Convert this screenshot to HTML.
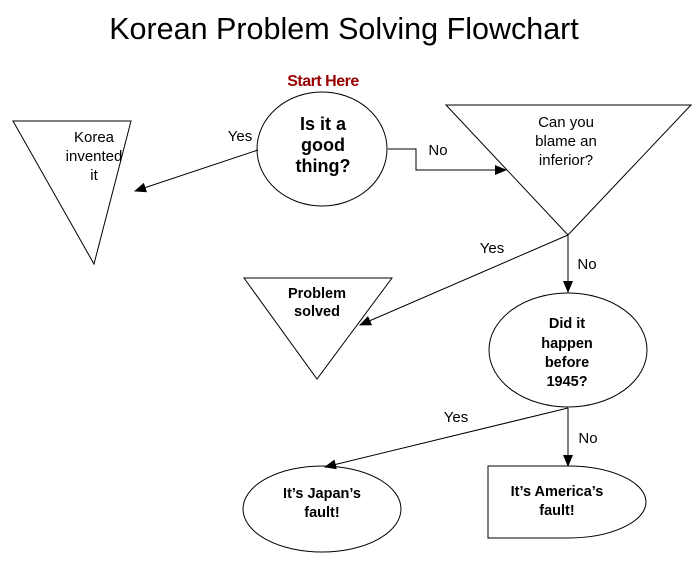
<!DOCTYPE html>
<html><head><meta charset="utf-8"><style>
html,body{margin:0;padding:0;background:#fff;}
svg{display:block;font-family:"Liberation Sans",Arial,sans-serif;}
</style></head><body>
<svg width="699" height="567" viewBox="0 0 699 567" xmlns="http://www.w3.org/2000/svg">
<defs><marker id="a" markerWidth="12" markerHeight="10" refX="11" refY="5" orient="auto" markerUnits="userSpaceOnUse"><path d="M0,0 L12,5 L0,10 Z" fill="#000"/></marker></defs>
<rect width="699" height="567" fill="#fff"/>
<text x="344" y="39" font-size="30.5" text-anchor="middle">Korean Problem Solving Flowchart</text>
<text x="323" y="86" font-size="16" font-weight="bold" fill="#990000" text-anchor="middle" letter-spacing="-0.5">Start Here</text>
<g fill="none" stroke="#000" stroke-width="1">
<ellipse cx="322" cy="149" rx="65" ry="57"/>
<polygon points="13,121 131,121 94,264"/>
<polygon points="446,105 691,105 568,235"/>
<polygon points="244,278 392,278 317,379"/>
<ellipse cx="568" cy="350" rx="79" ry="57"/>
<ellipse cx="322" cy="509" rx="79" ry="43"/>
<path d="M568,466 L488,466 L488,538 L568,538 A78,36 0 0 0 568,466"/>
<line x1="258" y1="150" x2="135" y2="191" marker-end="url(#a)"/>
<polyline points="388,149 416,149 416,170 506,170" marker-end="url(#a)"/>
<line x1="568" y1="235" x2="360" y2="325" marker-end="url(#a)"/>
<line x1="568" y1="235" x2="568" y2="292" marker-end="url(#a)"/>
<line x1="568" y1="408" x2="325" y2="467" marker-end="url(#a)"/>
<line x1="568" y1="408" x2="568" y2="466" marker-end="url(#a)"/>
</g>
<g font-size="18" font-weight="bold" text-anchor="middle">
<text x="323" y="130">Is it a</text><text x="323" y="151">good</text><text x="323" y="172">thing?</text>
</g>
<g font-size="15" text-anchor="middle">
<text x="94" y="142">Korea</text><text x="94" y="161">invented</text><text x="94" y="180">it</text>
<text x="566" y="127">Can you</text><text x="566" y="146">blame an</text><text x="566" y="165">inferior?</text>
<text x="240" y="141">Yes</text><text x="438" y="155">No</text>
<text x="492" y="253">Yes</text><text x="587" y="269">No</text>
<text x="456" y="422">Yes</text><text x="588" y="443">No</text>
</g>
<g font-size="14.5" font-weight="bold" text-anchor="middle">
<text x="317" y="298">Problem</text><text x="317" y="316">solved</text>
<text x="567" y="328">Did it</text><text x="567" y="348">happen</text><text x="567" y="367">before</text><text x="567" y="386">1945?</text>
<text x="322" y="498">It’s Japan’s</text><text x="322" y="517">fault!</text>
<text x="557" y="496">It’s America’s</text><text x="557" y="515">fault!</text>
</g>
</svg>
</body></html>
